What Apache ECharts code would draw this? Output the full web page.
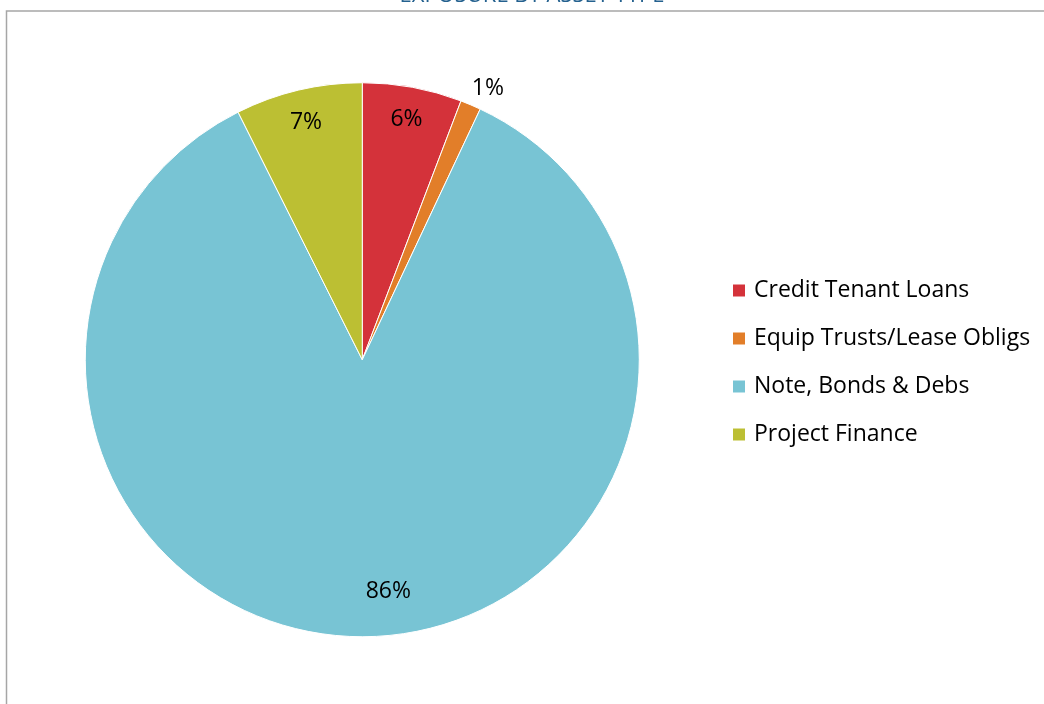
<!DOCTYPE html>
<html>
<head>
<meta charset="utf-8">
<script src="https://cdn.jsdelivr.net/npm/echarts@6/dist/echarts.min.js"></script>
<style>
  html, body { margin: 0; padding: 0; background: #fff; }
  #chart { width: 1044px; height: 704px; }
</style>
</head>
<body>
<div id="chart"></div>
<script>
// Exposure by asset type (share of portfolio, %)
const chartTitle = 'EXPOSURE BY ASSET TYPE';
const categories = ['Credit Tenant Loans', 'Equip Trusts/Lease Obligs', 'Note, Bonds & Debs', 'Project Finance'];
const shares = [5.8, 1.2, 85.6, 7.4];
const colors = ['#D4323A', '#E27E29', '#78C4D4', '#BCBF33'];

const FONT = '"Open Sans", "Noto Sans", sans-serif';
const total = shares.reduce((a, b) => a + b, 0);
const pctText = v => Math.round(v / total * 100) + '%';
const isSmall = v => v / total < 0.03;
const largest = shares.indexOf(Math.max(...shares));

const center = ['34.7%', '51.1%'];
const R = 277;

const chart = echarts.init(document.getElementById('chart'));
chart.setOption({
  animation: false,
  color: colors,
  title: {
    text: chartTitle,
    left: 532, textAlign: 'center', top: -15, padding: 0,
    textStyle: { fontFamily: FONT, fontSize: 22, fontWeight: 'normal', color: '#24618F' }
  },
  graphic: [{
    type: 'rect', silent: true,
    shape: { x: 6.5, y: 11, width: 1200, height: 900 },
    style: { fill: 'none', stroke: '#A6A6A6', lineWidth: 1.5 }
  }],
  legend: {
    orient: 'vertical',
    left: 731, top: 279, padding: 0,
    itemWidth: 14, itemHeight: 14, itemGap: 25,
    icon: 'rect',
    data: categories,
    textStyle: { fontFamily: FONT, fontSize: 23, color: '#000', padding: [0, 0, 0, 3] }
  },
  series: [
    {
      type: 'pie',
      center: center,
      radius: [0, R],
      startAngle: 90,
      clockwise: true,
      itemStyle: { borderColor: '#fff', borderWidth: 1 },
      label: { show: false },
      labelLine: { show: false },
      labelLayout: p => (isSmall(shares[p.dataIndex]) ? { dx: -7, dy: -9 } : {}),
      data: categories.map((name, i) => ({
        name: name, value: shares[i],
        label: isSmall(shares[i]) ? {
          show: true, position: 'outside', formatter: () => pctText(shares[i]),
          fontFamily: FONT, fontSize: 23, color: '#000'
        } : { show: false },
        labelLine: { show: false, length: 8, length2: 0 }
      }))
    },
    {
      // transparent ring that carries the in-slice percentage labels
      type: 'pie',
      silent: true,
      center: center,
      radius: [205, R],
      startAngle: 90,
      clockwise: true,
      itemStyle: { color: 'rgba(0,0,0,0)' },
      labelLine: { show: false },
      labelLayout: p => (p.dataIndex === largest ? { dx: 23, dy: -12 } : {}),
      data: categories.map((name, i) => ({
        name: name, value: shares[i],
        label: {
          show: !isSmall(shares[i]), position: 'inside',
          formatter: () => pctText(shares[i]),
          fontFamily: FONT, fontSize: 23, color: '#000'
        }
      }))
    }
  ]
});
</script>
</body>
</html>
